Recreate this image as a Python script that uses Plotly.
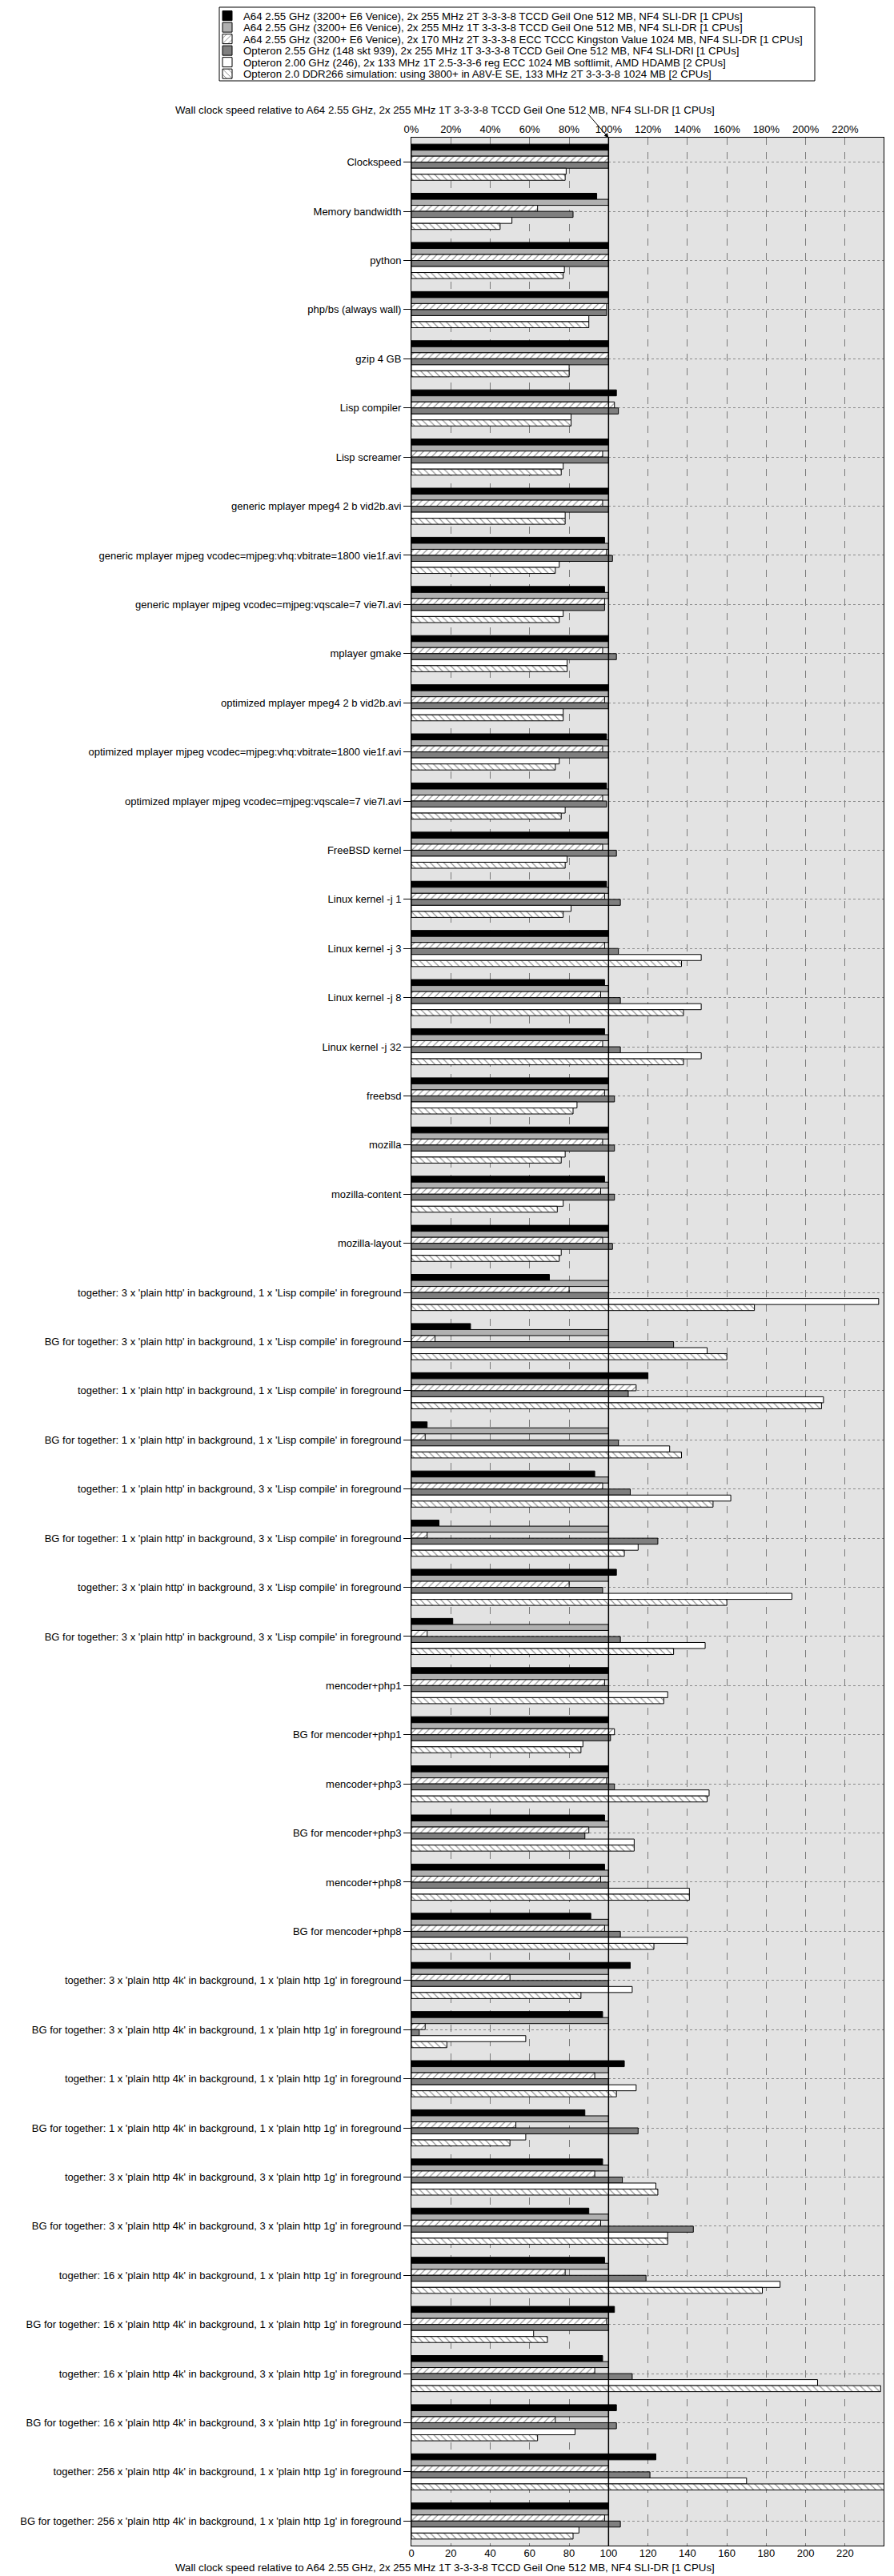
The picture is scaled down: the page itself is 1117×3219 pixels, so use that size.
import plotly.graph_objects as go

categories = [
    "Clockspeed",
    "Memory bandwidth",
    "python",
    "php/bs (always wall)",
    "gzip 4 GB",
    "Lisp compiler",
    "Lisp screamer",
    "generic mplayer mpeg4 2 b vid2b.avi",
    "generic mplayer mjpeg vcodec=mjpeg:vhq:vbitrate=1800 vie1f.avi",
    "generic mplayer mjpeg vcodec=mjpeg:vqscale=7 vie7l.avi",
    "mplayer gmake",
    "optimized mplayer mpeg4 2 b vid2b.avi",
    "optimized mplayer mjpeg vcodec=mjpeg:vhq:vbitrate=1800 vie1f.avi",
    "optimized mplayer mjpeg vcodec=mjpeg:vqscale=7 vie7l.avi",
    "FreeBSD kernel",
    "Linux kernel -j 1",
    "Linux kernel -j 3",
    "Linux kernel -j 8",
    "Linux kernel -j 32",
    "freebsd",
    "mozilla",
    "mozilla-content",
    "mozilla-layout",
    "together: 3 x 'plain http' in background, 1 x 'Lisp compile' in foreground",
    "BG for together: 3 x 'plain http' in background, 1 x 'Lisp compile' in foreground",
    "together: 1 x 'plain http' in background, 1 x 'Lisp compile' in foreground",
    "BG for together: 1 x 'plain http' in background, 1 x 'Lisp compile' in foreground",
    "together: 1 x 'plain http' in background, 3 x 'Lisp compile' in foreground",
    "BG for together: 1 x 'plain http' in background, 3 x 'Lisp compile' in foreground",
    "together: 3 x 'plain http' in background, 3 x 'Lisp compile' in foreground",
    "BG for together: 3 x 'plain http' in background, 3 x 'Lisp compile' in foreground",
    "mencoder+php1",
    "BG for mencoder+php1",
    "mencoder+php3",
    "BG for mencoder+php3",
    "mencoder+php8",
    "BG for mencoder+php8",
    "together: 3 x 'plain http 4k' in background, 1 x 'plain http 1g' in foreground",
    "BG for together: 3 x 'plain http 4k' in background, 1 x 'plain http 1g' in foreground",
    "together: 1 x 'plain http 4k' in background, 1 x 'plain http 1g' in foreground",
    "BG for together: 1 x 'plain http 4k' in background, 1 x 'plain http 1g' in foreground",
    "together: 3 x 'plain http 4k' in background, 3 x 'plain http 1g' in foreground",
    "BG for together: 3 x 'plain http 4k' in background, 3 x 'plain http 1g' in foreground",
    "together: 16 x 'plain http 4k' in background, 1 x 'plain http 1g' in foreground",
    "BG for together: 16 x 'plain http 4k' in background, 1 x 'plain http 1g' in foreground",
    "together: 16 x 'plain http 4k' in background, 3 x 'plain http 1g' in foreground",
    "BG for together: 16 x 'plain http 4k' in background, 3 x 'plain http 1g' in foreground",
    "together: 256 x 'plain http 4k' in background, 1 x 'plain http 1g' in foreground",
    "BG for together: 256 x 'plain http 4k' in background, 1 x 'plain http 1g' in foreground",
]

series_names = [
    "A64 2.55 GHz (3200+ E6 Venice), 2x 255 MHz 2T 3-3-3-8 TCCD Geil One 512 MB, NF4 SLI-DR [1 CPUs]",
    "A64 2.55 GHz (3200+ E6 Venice), 2x 255 MHz 1T 3-3-3-8 TCCD Geil One 512 MB, NF4 SLI-DR [1 CPUs]",
    "A64 2.55 GHz (3200+ E6 Venice), 2x 170 MHz 2T 3-3-3-8 ECC TCCC Kingston Value 1024 MB, NF4 SLI-DR [1 CPUs]",
    "Opteron 2.55 GHz (148 skt 939), 2x 255 MHz 1T 3-3-3-8 TCCD Geil One 512 MB, NF4 SLI-DRI [1 CPUs]",
    "Opteron 2.00 GHz (246), 2x 133 MHz 1T 2.5-3-3-6 reg ECC 1024 MB softlimit, AMD HDAMB [2 CPUs]",
    "Opteron 2.0 DDR266 simulation: using 3800+ in A8V-E SE, 133 MHz 2T 3-3-3-8 1024 MB [2 CPUs]",
]

a64_2t = [100, 94, 100, 100, 100, 104, 100, 100, 98, 98,
          100, 100, 99, 99, 100, 99, 100, 98, 98, 100,
          100, 98, 100, 70, 30, 120, 8, 93, 14, 104,
          21, 100, 100, 100, 98, 98, 91, 111, 97, 108,
          88, 97, 90, 98, 103, 97, 104, 124, 100]
a64_1t = [100, 100, 100, 100, 100, 100, 100, 100, 100, 100,
          100, 100, 100, 100, 100, 100, 100, 100, 100, 100,
          100, 100, 100, 100, 100, 100, 100, 100, 100, 100,
          100, 100, 100, 100, 100, 100, 100, 100, 100, 100,
          100, 100, 100, 100, 100, 100, 100, 100, 100]
a64_170 = [100, 64, 100, 99, 100, 103, 97, 97, 99, 98,
           97, 98, 97, 97, 97, 98, 98, 96, 97, 98,
           97, 96, 97, 80, 12, 114, 7, 97, 8, 80,
           8, 98, 103, 99, 90, 96, 98, 50, 7, 93,
           53, 93, 96, 78, 99, 93, 73, 100, 98]
opt_255 = [100, 82, 100, 99, 100, 105, 100, 100, 102, 98,
           104, 100, 100, 99, 104, 106, 105, 106, 106, 103,
           103, 103, 102, 100, 133, 110, 105, 111, 125, 97,
           106, 100, 101, 103, 88, 100, 106, 100, 4, 100,
           115, 107, 143, 119, 100, 112, 104, 121, 106]
opt_200 = [78.5, 51, 77.6, 90, 80, 81, 77, 78, 75, 77,
           79, 77, 75, 78, 79, 81, 147, 147, 147, 84,
           78, 77, 76, 237, 150, 209, 131, 162, 115, 193,
           149, 130, 87, 151, 113, 141, 140, 112, 58, 114,
           58, 124, 130, 187, 62, 206, 83, 170, 85]
opt_sim = [78, 45, 77, 90, 80, 81, 76, 78, 73, 75,
           79, 77, 73, 76, 78, 77, 137, 138, 138, 82,
           76, 74, 75, 174, 160, 208, 137, 153, 108, 160,
           133, 128, 86, 150, 113, 141, 123, 86, 18, 104,
           50, 125, 130, 178, 69, 238, 64, 245, 82]

axis_title = "Wall clock speed relative to A64 2.55 GHz, 2x 255 MHz 1T 3-3-3-8 TCCD Geil One 512 MB, NF4 SLI-DR [1 CPUs]"
tick_vals = [0, 20, 40, 60, 80, 100, 120, 140, 160, 180, 200, 220]
top_tick_text = ["0%", "20%", "40%", "60%", "80%", "100%", "120%", "140%", "160%", "180%", "200%", "220%"]
bottom_tick_text = ["0", "20", "40", "60", "80", "100", "120", "140", "160", "180", "200", "220"]

FONT = "Liberation Sans, Arial, Helvetica, sans-serif"

# The page body adds an 8 px offset; layout is planned in screen pixels
# and converted to figure pixels.
OFF = 8
SCREEN_W, SCREEN_H = 1117, 3219
W, H = SCREEN_W - OFF, SCREEN_H - OFF
PLOT_L, PLOT_R, PLOT_T, PLOT_B = 514, 1104, 172, 3181   # screen px
ML = PLOT_L - OFF
MR = W - (PLOT_R - OFF)
MT = PLOT_T - OFF
MB = H - (PLOT_B - OFF)
PW = W - ML - MR
PH = H - MT - MB
XMAX = 239.5


def sx(px):
    """screen x pixel -> paper x"""
    return (px - PLOT_L) / PW


def sy(py):
    """screen y pixel -> paper y"""
    return 1 - (py - PLOT_T) / PH


styles = [
    dict(color="#000000", pattern=dict(shape="")),
    dict(color="#b0b0b0", pattern=dict(shape="")),
    dict(color="#ffffff", pattern=dict(shape="/", fgcolor="#000000", bgcolor="#ffffff", size=6, solidity=0.18)),
    dict(color="#7f7f7f", pattern=dict(shape="")),
    dict(color="#ffffff", pattern=dict(shape="")),
    dict(color="#ffffff", pattern=dict(shape="\\", fgcolor="#000000", bgcolor="#ffffff", size=6, solidity=0.18)),
]

all_series = [a64_2t, a64_1t, a64_170, opt_255, opt_200, opt_sim]
legend_ids = ["legend", "legend2", "legend3", "legend4", "legend5", "legend6"]
legend_row_y = [20, 34.5, 49, 63.5, 78, 92.5]   # screen px

fig = go.Figure()
for name, vals, st, lid in zip(series_names, all_series, styles, legend_ids):
    fig.add_trace(go.Bar(
        y=categories, x=vals, orientation="h", name=name, legend=lid,
        marker=dict(color=st["color"], pattern=st["pattern"],
                    line=dict(color="#000000", width=1)),
    ))

# empty helper trace so that the bottom (secondary) x axis gets drawn
fig.add_trace(go.Scatter(x=[], y=[], xaxis="x2", yaxis="y", showlegend=False,
                         hoverinfo="skip", mode="markers"))

legend_layout = {}
for lid, ry in zip(legend_ids, legend_row_y):
    legend_layout[lid] = dict(
        xref="container", yref="container", x=(264 - OFF) / W, y=1 - (ry - OFF) / H,
        xanchor="left", yanchor="middle",
        bgcolor="rgba(0,0,0,0)", borderwidth=0,
        font=dict(family=FONT, size=13.3, color="#000000"),
        itemwidth=30,
    )

fig.update_layout(
    width=W, height=H,
    margin=dict(l=ML, r=MR, t=MT, b=MB, autoexpand=False),
    plot_bgcolor="#e3e3e3", paper_bgcolor="#ffffff",
    font=dict(family=FONT, size=13, color="#000000"),
    barmode="group", bargap=0.265, bargroupgap=0,
    showlegend=True,
    xaxis=dict(
        side="top", range=[0, XMAX], tickmode="array",
        tickvals=tick_vals, ticktext=top_tick_text,
        showgrid=True, gridcolor="#7a7a7a", griddash="dash", gridwidth=1,
        showline=True, linecolor="#000000", linewidth=1, mirror=True,
        ticks="", zeroline=False, automargin=False,
        tickfont=dict(size=13),
    ),
    xaxis2=dict(
        overlaying="x", side="bottom", range=[0, XMAX], tickmode="array",
        tickvals=tick_vals, ticktext=bottom_tick_text,
        showgrid=False, showline=False, ticks="", zeroline=False,
        automargin=False, tickfont=dict(size=13),
    ),
    yaxis=dict(
        type="category", autorange="reversed",
        showgrid=True, gridcolor="#8a8a8a", griddash="dot", gridwidth=1,
        showline=True, linecolor="#000000", linewidth=1, mirror=True,
        ticks="outside", ticklen=9, tickcolor="#000000", tickwidth=1,
        zeroline=False, automargin=False, tickfont=dict(size=13),
    ),
    **legend_layout,
)

# legend frame
fig.add_shape(type="rect", xref="paper", yref="paper",
              x0=sx(274), x1=sx(1018), y0=sy(101), y1=sy(9),
              line=dict(color="#000000", width=1), fillcolor="rgba(0,0,0,0)")

# reference line at 100 %
fig.add_shape(type="line", xref="x", yref="paper", x0=100, x1=100, y0=0, y1=1,
              line=dict(color="#000000", width=1.5), layer="above")

# axis titles (top and bottom)
title_x = sx(556)
fig.add_annotation(xref="paper", yref="paper", x=title_x, y=sy(137),
                   xanchor="center", yanchor="middle", showarrow=False,
                   text=axis_title, font=dict(family=FONT, size=13.3, color="#000000"))
fig.add_annotation(xref="paper", yref="paper", x=title_x, y=sy(3208),
                   xanchor="center", yanchor="middle", showarrow=False,
                   text=axis_title, font=dict(family=FONT, size=13.3, color="#000000"))

# arrow from the title to the 100 % mark
fig.add_annotation(xref="x", yref="paper", x=100, y=1, ax=-27, ay=-31,
                   axref="pixel", ayref="pixel", text="", showarrow=True,
                   arrowhead=2, arrowsize=1.1, arrowwidth=1, arrowcolor="#000000")

fig.write_html("out.html")
